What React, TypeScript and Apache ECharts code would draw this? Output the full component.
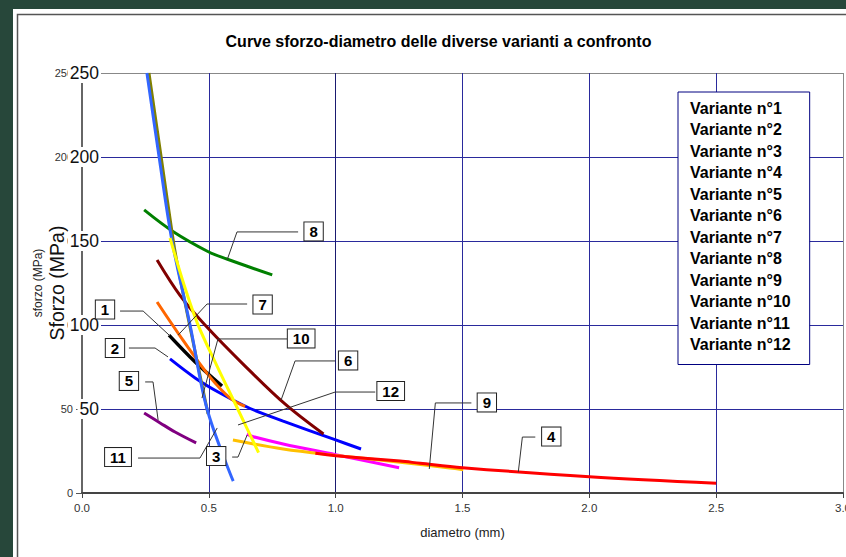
import React, { useEffect, useRef } from 'react';
import * as echarts from 'echarts';

const FONT = '"Liberation Sans", Arial, Helvetica, sans-serif';

const chartTitle = 'Curve sforzo-diametro delle diverse varianti a confronto';
const xAxisName = 'diametro (mm)';
const yAxisSmallName = 'sforzo (MPa)';
const yAxisBigName = 'Sforzo (MPa)';

const variantNames = [
  'Variante n°1', 'Variante n°2', 'Variante n°3', 'Variante n°4',
  'Variante n°5', 'Variante n°6', 'Variante n°7', 'Variante n°8',
  'Variante n°9', 'Variante n°10', 'Variante n°11', 'Variante n°12',
];

const variantColors = [
  '#000000', '#0000ff', '#ff00ff', '#ff0000',
  '#800080', '#800000', '#ff6600', '#008000',
  '#ffc000', '#808000', '#3366ff', '#ffff00',
];

// [diametro (mm), sforzo (MPa)]
const variante1 = [[0.343, 94], [0.446, 78], [0.552, 63.7]];
const variante2 = [[0.347, 79.8], [0.446, 68.5], [0.544, 59.5], [0.663, 50.3], [0.793, 42.8], [1.0, 31.6], [1.1, 26.2]];
const variante3 = [[0.65, 35], [0.675, 33.5], [0.793, 29.2], [1.0, 22.8], [1.25, 15]];
const variante4 = [[0.92, 23.6], [1.0, 22.2], [1.254, 19], [1.333, 17.7], [1.5, 15.1], [2.0, 9.7], [2.5, 5.8]];
const variante5 = [[0.245, 47.6], [0.308, 41.7], [0.367, 36.3], [0.45, 29.8]];
const variante6 = [[0.296, 138.7], [0.387, 117.5], [0.485, 100], [0.64, 76], [0.8, 53], [0.952, 35.1]];
const variante7 = [[0.296, 113.7], [0.398, 91], [0.505, 69], [0.584, 56.5], [0.643, 51.5]];
const variante8 = [[0.245, 168.5], [0.36, 155.5], [0.498, 143.6], [0.571, 139.3], [0.75, 129.8]];
const variante9 = [[0.595, 31.5], [0.793, 26.2], [1.0, 22.4], [1.254, 18.3], [1.45, 14.9], [1.503, 13.9]];
const variante10 = [[0.264, 250], [0.312, 200], [0.36, 150], [0.375, 137], [0.42, 103], [0.497, 47]];
const variante11 = [[0.256, 250], [0.304, 200], [0.355, 150], [0.426, 100], [0.493, 50], [0.596, 7.1]];
const variante12 = [[0.347, 151.8], [0.4, 125], [0.455, 101], [0.531, 76], [0.614, 50], [0.696, 24]];

const variantData = [
  variante1, variante2, variante3, variante4, variante5, variante6,
  variante7, variante8, variante9, variante10, variante11, variante12,
];

// callout labels, box centres and leader lines, in data units
const annotationLabels = ['1', '2', '5', '7', '8', '10', '6', '12', '11', '3', '9', '4'];
const annotationBoxes = [
  [0.0907, 109.2], [0.13, 86.3], [0.185, 66.7], [0.712, 112.2],
  [0.913, 155.7], [0.864, 92.0], [1.049, 78.9], [1.217, 60.7],
  [0.142, 21.4], [0.529, 22.0], [1.596, 53.9], [1.85, 33.6],
];
const annotationLeaders = [
  [[0.15, 108.3], [0.241, 108.3], [0.347, 93.5]],
  [[0.185, 86.3], [0.288, 86.3], [0.339, 81]],
  [[0.249, 66.1], [0.28, 66.1], [0.3, 43.5]],
  [[0.651, 112.5], [0.493, 112.5], [0.379, 94]],
  [[0.852, 155.4], [0.611, 155.4], [0.572, 138.7]],
  [[0.809, 91.7], [0.536, 91.7], [0.473, 56.5]],
  [[0.998, 78.6], [0.84, 78.6], [0.785, 55.4]],
  [[1.156, 60.1], [0.998, 60.1], [0.615, 40.5]],
  [[0.221, 20.8], [0.465, 20.8], [0.533, 38.7]],
  [[0.592, 21.4], [0.615, 21.4], [0.651, 34.5]],
  [[1.535, 53.6], [1.393, 53.6], [1.369, 14.3]],
  [[1.787, 33.3], [1.736, 33.3], [1.72, 12.5]],
];

const xMin = 0;
const xMax = 3;
const xStep = 0.5;
const yMin = 0;
const yMax = 250;
const yStep = 50;

const GRID_BLUE = '#2a2a9c';

export default function App() {
  const ref = useRef<HTMLDivElement>(null);

  useEffect(() => {
    document.body.style.margin = '0';
    if (!ref.current) return;
    const chart = echarts.init(ref.current, undefined, { renderer: 'svg' });

    const lineSeries = variantData.map((d, i) => ({
      name: variantNames[i],
      type: 'line',
      data: d,
      smooth: 0.35,
      showSymbol: false,
      symbol: 'none',
      z: i === 3 ? 4 : 2,
      lineStyle: { color: variantColors[i], width: i === 0 ? 3.5 : 3 },
      itemStyle: { color: variantColors[i] },
      emphasis: { disabled: true },
    }));

    const annotationSeries = {
      type: 'custom',
      name: 'callouts',
      z: 10,
      clip: false,
      silent: true,
      data: annotationBoxes,
      renderItem: (params: any, api: any) => {
        const i = params.dataIndex;
        const pts = annotationLeaders[i].map((p) => api.coord(p));
        const c = api.coord(annotationBoxes[i]);
        return {
          type: 'group',
          children: [
            {
              type: 'polyline',
              shape: { points: pts },
              style: { stroke: '#333', lineWidth: 1, fill: null },
            },
            {
              type: 'text',
              x: c[0],
              y: c[1],
              style: {
                text: annotationLabels[i],
                fill: '#000',
                font: `bold 15px ${FONT}`,
                align: 'center',
                verticalAlign: 'middle',
                backgroundColor: '#fff',
                borderColor: '#222',
                borderWidth: 1,
                padding: [2, 5, 1, 5],
              },
            },
          ],
        };
      },
    };

    chart.setOption({
      animation: false,
      backgroundColor: '#ffffff',
      textStyle: { fontFamily: FONT },
      graphic: [
        {
          type: 'rect',
          shape: { x: 4.5, y: 5.5, width: 1000, height: 1000 },
          style: { fill: 'none', stroke: '#555', lineWidth: 1.5 },
          silent: true,
        },
        {
          type: 'text',
          x: 425.5,
          y: 32,
          style: {
            text: chartTitle,
            fill: '#000',
            font: `bold 16px ${FONT}`,
            align: 'center',
            verticalAlign: 'middle',
          },
        },
      ],
      legend: {
        data: variantNames,
        orient: 'vertical',
        left: 665,
        top: 83,
        itemWidth: 0,
        itemHeight: 16,
        itemGap: 5.5,
        padding: [8, 19, 12, 7],
        backgroundColor: '#fff',
        borderColor: '#000080',
        borderWidth: 1,
        selectedMode: false,
        icon: 'rect',
        itemStyle: { opacity: 0 },
        lineStyle: { opacity: 0 },
        textStyle: { fontSize: 16, fontWeight: 'bold', color: '#000', fontFamily: FONT },
        z: 6,
      },
      grid: { left: 69, top: 64, width: 761, height: 420, containLabel: false },
      xAxis: {
        type: 'value',
        min: xMin,
        max: xMax,
        interval: xStep,
        name: xAxisName,
        nameLocation: 'middle',
        nameGap: 33,
        nameMoveOverlap: false,
        nameTextStyle: { fontSize: 13, color: '#222' },
        axisLine: { show: true, onZero: false, lineStyle: { color: '#444', width: 2 } },
        axisTick: { show: true, length: 5, lineStyle: { color: '#444' } },
        axisLabel: {
          fontSize: 11.5,
          color: '#333',
          margin: 9,
          formatter: (v: number) => v.toFixed(1),
        },
        splitLine: {
          show: true,
          lineStyle: {
            color: ['#666', GRID_BLUE, '#1a1a70', GRID_BLUE, GRID_BLUE, GRID_BLUE, '#888'],
            width: 1,
          },
        },
      },
      yAxis: [
        {
          type: 'value',
          position: 'left',
          min: yMin,
          max: yMax,
          interval: yStep,
          name: yAxisSmallName,
          nameLocation: 'middle',
          nameRotate: 90,
          nameGap: 38,
          nameMoveOverlap: false,
          nameTextStyle: { fontSize: 12, color: '#222' },
          axisLine: { show: true, lineStyle: { color: '#666', width: 2 } },
          axisTick: { show: true, length: 6, lineStyle: { color: '#555' } },
          axisLabel: { fontSize: 11, color: '#333', margin: 9 },
          splitLine: {
            show: true,
            lineStyle: {
              color: ['#444', GRID_BLUE, GRID_BLUE, GRID_BLUE, GRID_BLUE, '#888'],
              width: 1,
            },
          },
        },
        {
          type: 'value',
          position: 'left',
          min: yMin,
          max: yMax,
          interval: yStep,
          offset: -21,
          z: 3,
          name: yAxisBigName,
          nameLocation: 'middle',
          nameRotate: 90,
          nameGap: 36,
          nameMoveOverlap: false,
          nameTextStyle: {
            fontSize: 19.5,
            color: '#111',
            backgroundColor: '#fff',
            padding: [0, 1],
          },
          axisLine: { show: false },
          axisTick: { show: false },
          splitLine: { show: false },
          axisLabel: {
            fontSize: 17.5,
            color: '#111',
            margin: 2,
            showMinLabel: false,
            backgroundColor: '#fff',
            padding: [1, 2],
          },
        },
      ],
      series: [...lineSeries, annotationSeries],
    });

    return () => {
      chart.dispose();
    };
  }, []);

  return (
    <div
      style={{
        position: 'relative',
        width: 846,
        height: 557,
        background: '#27473a',
        overflow: 'hidden',
      }}
    >
      <div
        ref={ref}
        style={{ position: 'absolute', left: 13, top: 9, width: 890, height: 548 }}
      />
    </div>
  );
}
